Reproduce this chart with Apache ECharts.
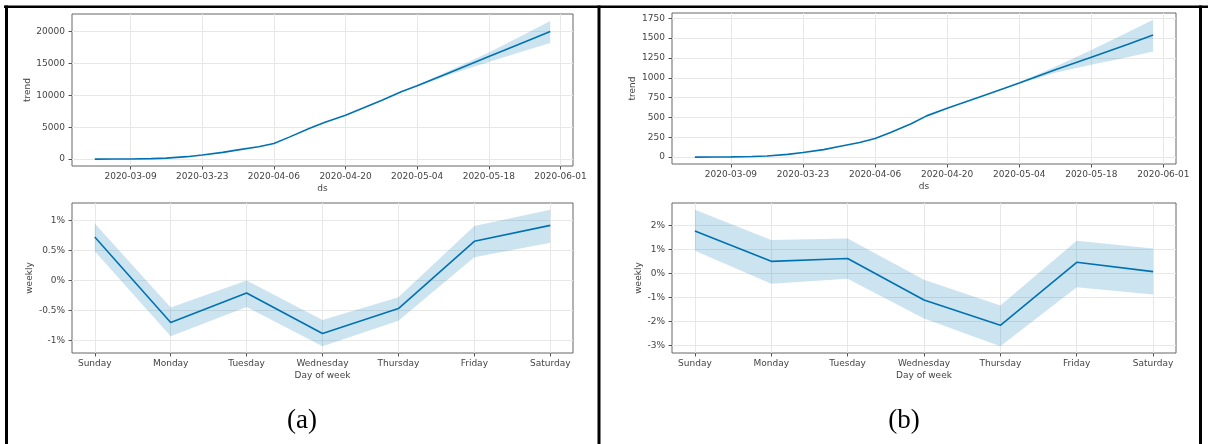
<!DOCTYPE html>
<html><head><meta charset="utf-8">
<script src="https://cdn.jsdelivr.net/npm/echarts@6/dist/echarts.min.js"></script>
<style>html,body{margin:0;padding:0;background:#fff}#c{width:1208px;height:444px}</style>
</head><body><div id="c"></div>
<script>
// ---------- data ----------
const trendDates = ['2020-03-02','2020-03-06','2020-03-09','2020-03-13','2020-03-16','2020-03-20','2020-03-23','2020-03-27','2020-03-30','2020-04-03','2020-04-06','2020-04-09','2020-04-13','2020-04-16','2020-04-20','2020-04-27','2020-05-01','2020-05-04','2020-05-11','2020-05-18','2020-05-25','2020-05-30'];
const trendA      = [0,5,20,70,150,380,640,1050,1450,1950,2450,3450,4850,5800,6900,9200,10600,11500,13800,16100,18400,20050];
const trendUpperA = [0,5,20,70,150,380,640,1050,1450,1950,2450,3450,4850,5800,6900,9200,10600,11600,14150,16750,19600,21700];
const trendLowerA = [0,5,20,70,150,380,640,1050,1450,1950,2450,3450,4850,5800,6900,9200,10600,11400,13450,15250,17000,18250];
const trendB      = [0,1,3,8,15,35,58,95,135,185,235,310,420,520,615,775,865,935,1100,1260,1420,1540];
const trendUpperB = [0,1,3,8,15,35,58,95,135,185,235,310,420,520,615,775,865,945,1140,1350,1570,1730];
const trendLowerB = [0,1,3,8,15,35,58,95,135,185,235,310,420,520,615,775,865,925,1065,1165,1260,1330];

const days = ['Sunday','Monday','Tuesday','Wednesday','Thursday','Friday','Saturday'];
const weeklyA      = [0.727,-0.70,-0.207,-0.883,-0.467,0.655,0.92];
const weeklyUpperA = [0.95,-0.45,0.00,-0.66,-0.28,0.91,1.18];
const weeklyLowerA = [0.49,-0.93,-0.44,-1.095,-0.67,0.39,0.63];
const weeklyB      = [1.77,0.50,0.62,-1.11,-2.17,0.46,0.07];
const weeklyUpperB = [2.65,1.39,1.45,-0.27,-1.34,1.36,1.04];
const weeklyLowerB = [0.94,-0.44,-0.23,-1.89,-3.04,-0.58,-0.88];

const dateTicks = ['2020-03-09','2020-03-23','2020-04-06','2020-04-20','2020-05-04','2020-05-18','2020-06-01'];
const trendTicksA = [0,5000,10000,15000,20000];
const trendTicksB = [0,250,500,750,1000,1250,1500,1750];
const weeklyTicksA = [-1,-0.5,0,0.5,1];
const weeklyTicksB = [-3,-2,-1,0,1,2];

// ---------- helpers ----------
const ts = d => Date.parse(d + 'T00:00:00Z');
const pad2 = n => (n < 10 ? '0' : '') + n;
const fmtDate = v => { const d = new Date(v); return d.getUTCFullYear() + '-' + pad2(d.getUTCMonth() + 1) + '-' + pad2(d.getUTCDate()); };
const fmtPct = v => (Math.round(v * 100) / 100) + '%';
const fmtDay = v => days[Math.round(v)] || '';
const FONT = 'DejaVu Sans';
const LINE = '#0072B2';
const BAND = 'rgba(0,114,178,0.2)';
const TXT = '#444';
const lo = v => v.min - 0.05 * (v.max - v.min);
const hi = v => v.max + 0.05 * (v.max - v.min);

function xAxisCfg(gi, ticks, fmt, name) {
  return {
    type: 'value', gridIndex: gi, min: lo, max: hi, scale: true,
    axisLine: { show: false, onZero: false },
    axisTick: { show: true, length: 3.5, customValues: ticks, lineStyle: { color: '#555' } },
    axisLabel: { customValues: ticks, formatter: fmt, fontSize: 9, color: TXT, margin: 6, fontFamily: FONT, hideOverlap: false },
    splitLine: { show: true, lineStyle: { color: '#e8e8e8', width: 1 } },
    name: name, nameLocation: 'middle', nameGap: 18,
    nameTextStyle: { fontSize: 9, color: TXT, fontFamily: FONT }
  };
}
function yAxisCfg(gi, ticks, fmt, name, gap) {
  return {
    type: 'value', gridIndex: gi, min: lo, max: hi, scale: true,
    axisLine: { show: false, onZero: false },
    axisTick: { show: true, length: 3.5, customValues: ticks, lineStyle: { color: '#555' } },
    axisLabel: { customValues: ticks, formatter: fmt, fontSize: 9, color: TXT, margin: 7, fontFamily: FONT, hideOverlap: false },
    splitLine: { show: true, lineStyle: { color: '#e8e8e8', width: 1 } },
    name: name, nameLocation: 'middle', nameGap: gap,
    nameTextStyle: { fontSize: 9, color: TXT, fontFamily: FONT }
  };
}
function bandSeries(gi, xs, lower, upper, mid) {
  return [
    { type: 'custom', coordinateSystem: 'cartesian2d', xAxisIndex: gi, yAxisIndex: gi, silent: true, z: 2,
      encode: { x: 0, y: [1, 2] },
      data: xs.map((x, i) => [x, lower[i], upper[i]]),
      renderItem: function (params, api) {
        if (params.dataIndex !== 0) return null;
        const pts = [];
        for (let i = 0; i < xs.length; i++) pts.push(api.coord([xs[i], upper[i]]));
        for (let i = xs.length - 1; i >= 0; i--) pts.push(api.coord([xs[i], lower[i]]));
        return { type: 'polygon', shape: { points: pts }, style: { fill: BAND, stroke: null } };
      }
    },
    { type: 'line', xAxisIndex: gi, yAxisIndex: gi, symbol: 'none', silent: true,
      lineStyle: { color: LINE, width: 1.6 }, data: xs.map((x, i) => [x, mid[i]]), z: 3 }
  ];
}

const tX = trendDates.map(ts);
const wX = days.map((d, i) => i);
const tickTs = dateTicks.map(ts);

const chart = echarts.init(document.getElementById('c'), null, { renderer: 'canvas' });
const gridStyle = { show: true, borderColor: '#666', borderWidth: 1, backgroundColor: 'transparent', containLabel: false };
chart.setOption({
  animation: false,
  backgroundColor: '#fff',
  grid: [
    Object.assign({ left: 72, top: 14, width: 501, height: 152 }, gridStyle),
    Object.assign({ left: 72, top: 203, width: 501, height: 150 }, gridStyle),
    Object.assign({ left: 672, top: 13, width: 504, height: 151 }, gridStyle),
    Object.assign({ left: 672, top: 203, width: 504, height: 150 }, gridStyle)
  ],
  xAxis: [
    xAxisCfg(0, tickTs, fmtDate, 'ds'),
    Object.assign(xAxisCfg(1, wX, fmtDay, 'Day of week'), { min: -0.3, max: 6.3 }),
    xAxisCfg(2, tickTs, fmtDate, 'ds'),
    Object.assign(xAxisCfg(3, wX, fmtDay, 'Day of week'), { min: -0.3, max: 6.3 })
  ],
  yAxis: [
    yAxisCfg(0, trendTicksA, v => String(v), 'trend', 39),
    yAxisCfg(1, weeklyTicksA, fmtPct, 'weekly', 38),
    yAxisCfg(2, trendTicksB, v => String(v), 'trend', 35),
    yAxisCfg(3, weeklyTicksB, fmtPct, 'weekly', 29)
  ],
  series: [].concat(
    bandSeries(0, tX, trendLowerA, trendUpperA, trendA),
    bandSeries(1, wX, weeklyLowerA, weeklyUpperA, weeklyA),
    bandSeries(2, tX, trendLowerB, trendUpperB, trendB),
    bandSeries(3, wX, weeklyLowerB, weeklyUpperB, weeklyB)
  ),
  graphic: [
    { type: 'line', shape: { x1: 4, y1: 6.8, x2: 1208, y2: 6.8 }, style: { stroke: '#000', lineWidth: 2.6 } },
    { type: 'line', shape: { x1: 6.5, y1: 5.5, x2: 6.5, y2: 444 }, style: { stroke: '#000', lineWidth: 3 } },
    { type: 'line', shape: { x1: 599, y1: 5.5, x2: 599, y2: 444 }, style: { stroke: '#000', lineWidth: 3 } },
    { type: 'line', shape: { x1: 1200.5, y1: 5.5, x2: 1200.5, y2: 444 }, style: { stroke: '#000', lineWidth: 3 } },
    { type: 'text', x: 302, y: 421, style: { text: '(a)', font: '27px "Liberation Serif"', fill: '#000', textAlign: 'center', textVerticalAlign: 'middle' } },
    { type: 'text', x: 904, y: 421, style: { text: '(b)', font: '27px "Liberation Serif"', fill: '#000', textAlign: 'center', textVerticalAlign: 'middle' } }
  ]
});
</script>
</body></html>
